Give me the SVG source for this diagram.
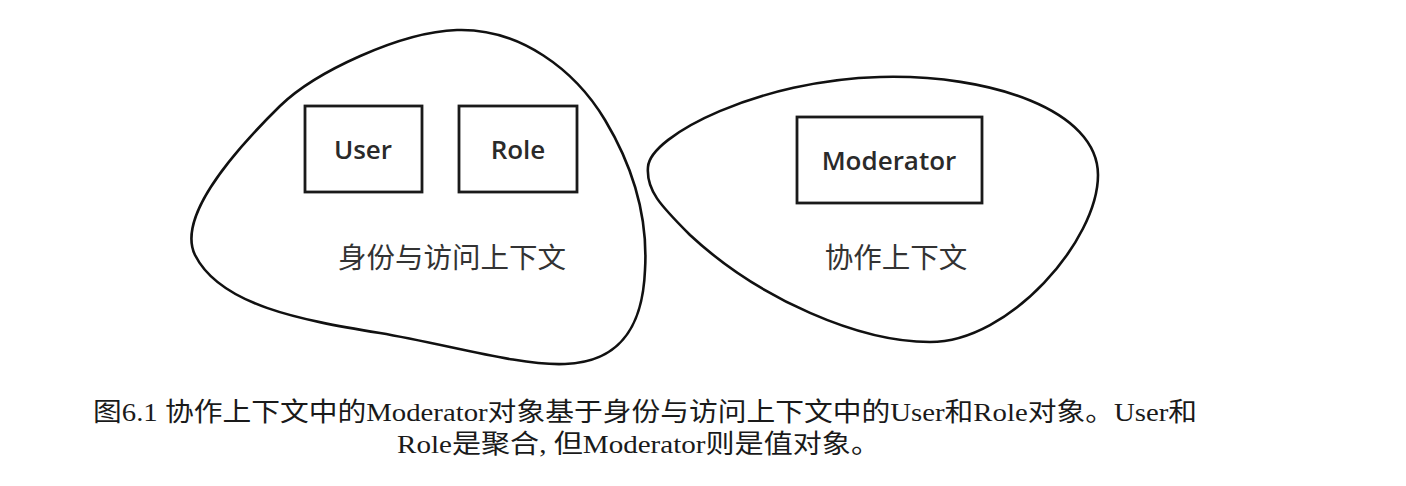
<svg xmlns="http://www.w3.org/2000/svg" width="1406" height="486" viewBox="0 0 1406 486">
<style>
.blob{fill:none;stroke:#111;stroke-width:2.6}
.box{fill:none;stroke:#1a1a1a;stroke-width:2.8}
.lbl{font-family:"Open Sans","Noto Sans",sans-serif;font-size:26px;font-weight:600;fill:#2a2a2a;text-anchor:middle}
.ctx{font-family:"Noto Sans CJK SC","Noto Sans",sans-serif;font-size:28.5px;fill:#333;text-anchor:middle}
.cap{font-family:"Liberation Serif","Noto Sans CJK SC",serif;font-size:26px;fill:#1a1a1a}
</style>
<rect width="1406" height="486" fill="#fff"/>
<g id="identity-context">
<path class="blob" d="M457,30 C520,28 575,70 605,120 C635,170 648,220 645,270 C643,320 625,362 565,364 C520,366 450,345 380,333 C300,320 220,305 195,255 C178,220 225,160 280,106 C315,72 400,32 457,30 Z"/>
<text class="ctx" x="452" y="268">身份与访问上下文</text>
</g>
<g id="user">
<rect class="box" x="305" y="106" width="117" height="86"/>
<text class="lbl" x="363" y="159">User</text>
</g>
<g id="role">
<rect class="box" x="459" y="106" width="118" height="86"/>
<text class="lbl" x="518" y="159">Role</text>
</g>
<g id="collaboration-context">
<path class="blob" d="M648,167 C650,135 760,80 880,77 C990,74 1098,110 1098,175 C1098,240 1010,342 930,342 C860,342 760,300 690,235 C660,205 646,190 648,167 Z"/>
<text class="ctx" x="896" y="268">协作上下文</text>
</g>
<g id="moderator">
<rect class="box" x="797" y="117" width="185" height="86"/>
<text class="lbl" x="889" y="170">Moderator</text>
</g>
<g id="connectors"></g>
<g id="caption">
<text class="cap" x="93" y="421" textLength="1104" lengthAdjust="spacingAndGlyphs">图6.1 协作上下文中的Moderator对象基于身份与访问上下文中的User和Role对象。User和</text>
<text class="cap" x="397" y="453" textLength="483" lengthAdjust="spacingAndGlyphs">Role是聚合, 但Moderator则是值对象。</text>
</g>
</svg>
